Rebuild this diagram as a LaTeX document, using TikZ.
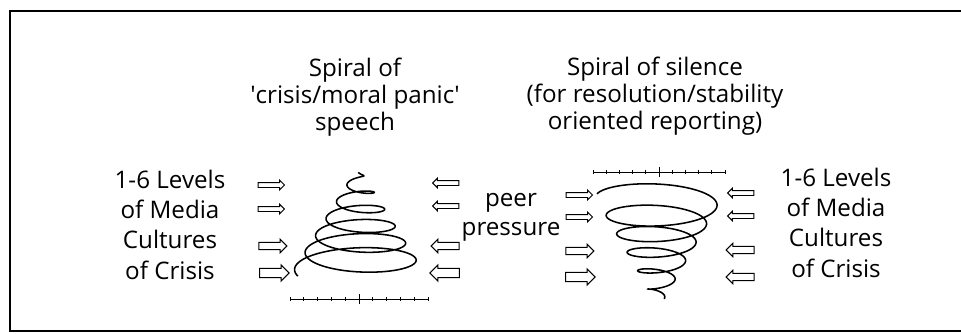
\documentclass[tikz,border=0pt]{standalone}
\usepackage{fontspec}
\setmainfont{Open Sans}
\usetikzlibrary{shapes.arrows}

\begin{document}
\begin{tikzpicture}[
        x=0.25mm, y=-0.25mm,
        font=\fontsize{17.2}{19.2}\selectfont,
        txt/.style={align=center, inner sep=0pt, anchor=base},
        sidetxt/.style={txt, font=\fontsize{17.2}{21.5}\selectfont},
        push/.style={
            single arrow,
            draw=black,
            line width=0.7pt,
            inner xsep=0pt,
            single arrow head indent=0pt,
            minimum height=6.6mm
        },
        pushS/.style={push, inner ysep=0.5mm, single arrow head extend=0.6mm},
        pushM/.style={push, inner ysep=0.8mm, single arrow head extend=0.75mm, minimum height=7mm},
        pushL/.style={push, inner ysep=1.05mm, single arrow head extend=0.85mm, minimum height=7.4mm},
        back/.style={shape border rotate=180},
        spiral/.style={line width=1.1pt, smooth},
        scalebar/.style={line width=0.6pt}
    ]
        \useasboundingbox (0,0) rectangle (961,333);
        \draw[line width=1.2pt] (10,11) rectangle (990,331);

        % titles and side labels (base = baseline of the last line)
        \node[txt] (crisisTitle) at (355,130) {Spiral of\\\textquotesingle crisis/moral panic\textquotesingle\\speech};
        \node[txt] (silenceTitle) at (655,129) {Spiral of silence\\(for resolution/stability\\oriented reporting)};
        \node[sidetxt] (levelsL) at (170,279) {1-6 Levels\\of Media\\Cultures\\of Crisis};
        \node[sidetxt] (levelsR) at (836,277) {1-6 Levels\\of Media\\Cultures\\of Crisis};
        \node[txt, font=\fontsize{17.2}{20}\selectfont] (peer) at (511,235) {peer\\pressure};

        % spiral of crisis speech (narrowing upwards)
        \draw[spiral] plot[domain=0:5.8, samples=500, variable=\k]
            ({358+(64-10.5*\k)*cos(160+360*\k)}, {270-17*\k+0.28*(64-10.5*\k)*sin(160+360*\k)});
        \draw[scalebar] (290,299) -- (428,299);
        \foreach \i in {0,...,10}
            \draw[scalebar] (290+13.8*\i,297) -- (290+13.8*\i,301);
        \draw[scalebar] (359,294) -- (359,304);

        % spiral of silence (narrowing downwards)
        \draw[spiral] plot[domain=0:5.5, samples=500, variable=\k]
            ({659+(63-10.5*\k)*cos(190+360*\k)}, {197+18.5*\k+0.28*(63-10.5*\k)*sin(190+360*\k)});
        \draw[scalebar] (593,172) -- (725,172);
        \foreach \i in {0,...,10}
            \draw[scalebar] (593+13.2*\i,170) -- (593+13.2*\i,174);
        \draw[scalebar] (659,167) -- (659,177);

        % pressure arrows round the crisis spiral
        \node[pushS] (cIn1) at (270,185) {};
        \node[pushS] (cIn2) at (270,209) {};
        \node[pushM] (cIn3) at (271,246) {};
        \node[pushL] (cIn4) at (272,273) {};
        \node[pushS, back] (cOut1) at (447,183) {};
        \node[pushS, back] (cOut2) at (447,206) {};
        \node[pushM, back] (cOut3) at (447,246) {};
        \node[pushL, back] (cOut4) at (447,273) {};

        % pressure arrows round the silence spiral
        \node[pushS] (sIn1) at (578,195) {};
        \node[pushS] (sIn2) at (578,217) {};
        \node[pushM] (sIn3) at (578,251) {};
        \node[pushL] (sIn4) at (578,277) {};
        \node[pushS, back] (sOut1) at (742,193) {};
        \node[pushS, back] (sOut2) at (742,216) {};
        \node[pushM, back] (sOut3) at (742,250) {};
        \node[pushM, back] (sOut4) at (742,277) {};
    \end{tikzpicture}
\end{document}
